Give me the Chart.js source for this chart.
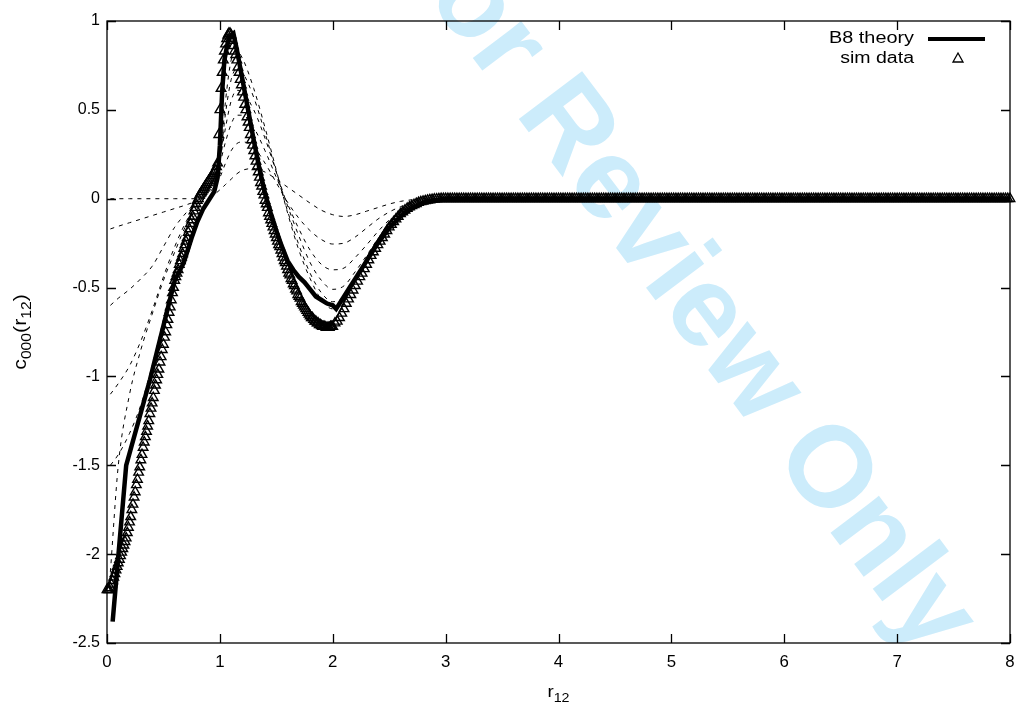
<!DOCTYPE html>
<html>
<head>
<meta charset="utf-8">
<script src="https://cdn.jsdelivr.net/npm/chart.js@4.4.0/dist/chart.umd.min.js"></script>
<style>
  html, body { margin: 0; padding: 0; background: #fff; }
  #wrap { width: 1024px; height: 719px; }
</style>
</head>
<body>
<div id="wrap"><canvas id="c" width="1024" height="719"></canvas></div>
<script>
// ---- axis ticks ----
const xTicks = [0, 1, 2, 3, 4, 5, 6, 7, 8];
const yTicks = [-2.5, -2, -1.5, -1, -0.5, 0, 0.5, 1];

// ---- B8 theory (thick solid) ----
const theoryR = [0.05, 0.17, 0.38, 0.60, 0.68, 0.75, 0.80, 0.85, 0.90, 0.95, 0.98, 1.00, 1.02, 1.04, 1.07, 1.10, 1.12,
  1.15, 1.20, 1.25, 1.30, 1.35, 1.40, 1.45, 1.50, 1.55, 1.60, 1.65, 1.70, 1.75, 1.80, 1.85, 1.90, 1.95, 2.00, 2.03,
  2.10, 2.15, 2.20, 2.30, 2.40, 2.50, 2.60, 2.70, 2.80, 2.90, 3.00, 8.00];
const theoryC = [-2.38, -1.50, -1.02, -0.46, -0.36, -0.22, -0.13, -0.06, -0.01, 0.04, 0.12, 0.30, 0.60, 0.78, 0.88, 0.92, 0.93,
  0.84, 0.67, 0.50, 0.33, 0.17, 0.03, -0.08, -0.18, -0.27, -0.35, -0.40, -0.44, -0.47, -0.51, -0.55, -0.57, -0.59, -0.60, -0.62,
  -0.55, -0.50, -0.45, -0.35, -0.25, -0.165, -0.10, -0.055, -0.025, -0.008, 0, 0];

// ---- sim data (triangles) ----
const simR = [
  0.00, 0.01, 0.02, 0.03, 0.04, 0.05, 0.06, 0.07, 0.08, 0.09, 0.10, 0.11, 0.12, 0.13, 0.14, 0.15, 0.16, 0.17, 0.18, 0.19,
  0.20, 0.21, 0.22, 0.23, 0.24, 0.25, 0.26, 0.27, 0.28, 0.29, 0.30, 0.31, 0.32, 0.33, 0.34, 0.35, 0.36, 0.37, 0.38, 0.39,
  0.40, 0.41, 0.42, 0.43, 0.44, 0.45, 0.46, 0.47, 0.48, 0.49, 0.50, 0.51, 0.52, 0.53, 0.54, 0.55, 0.56, 0.57, 0.58, 0.59,
  0.60, 0.61, 0.62, 0.63, 0.64, 0.65, 0.66, 0.67, 0.68, 0.69, 0.70, 0.71, 0.72, 0.73, 0.74, 0.75, 0.76, 0.77, 0.78, 0.79,
  0.80, 0.81, 0.82, 0.83, 0.84, 0.85, 0.86, 0.87, 0.88, 0.89, 0.90, 0.91, 0.92, 0.93, 0.94, 0.95, 0.96, 0.97, 0.98, 0.99,
  1.00, 1.01, 1.02, 1.03, 1.04, 1.05, 1.06, 1.07, 1.08, 1.09, 1.10, 1.11, 1.12, 1.13, 1.14, 1.15, 1.16, 1.17, 1.18, 1.19,
  1.20, 1.21, 1.22, 1.23, 1.24, 1.25, 1.26, 1.27, 1.28, 1.29, 1.30, 1.31, 1.32, 1.33, 1.34, 1.35, 1.36, 1.37, 1.38, 1.39,
  1.40, 1.41, 1.42, 1.43, 1.44, 1.45, 1.46, 1.47, 1.48, 1.49, 1.50, 1.51, 1.52, 1.53, 1.54, 1.55, 1.56, 1.57, 1.58, 1.59,
  1.60, 1.61, 1.62, 1.63, 1.64, 1.65, 1.66, 1.67, 1.68, 1.69, 1.70, 1.71, 1.72, 1.73, 1.74, 1.75, 1.76, 1.77, 1.78, 1.79,
  1.80, 1.81, 1.82, 1.83, 1.84, 1.85, 1.86, 1.87, 1.88, 1.89, 1.90, 1.91, 1.92, 1.93, 1.94, 1.95, 1.96, 1.97, 1.98, 1.99,
  2.00, 2.02, 2.04, 2.06, 2.08, 2.10, 2.12, 2.14, 2.16, 2.18, 2.20, 2.22, 2.24, 2.26, 2.28, 2.30, 2.32, 2.34, 2.36, 2.38,
  2.40, 2.42, 2.44, 2.46, 2.48, 2.50, 2.52, 2.54, 2.56, 2.58, 2.60, 2.62, 2.64, 2.66, 2.68, 2.70, 2.72, 2.74, 2.76, 2.78,
  2.80, 2.82, 2.84, 2.86, 2.88, 2.90, 2.92, 2.94, 2.96, 2.98, 3.00,
  3.02, 3.04, 3.06, 3.08, 3.10, 3.12, 3.14, 3.16, 3.18, 3.20, 3.22, 3.24, 3.26, 3.28, 3.30, 3.32, 3.34, 3.36, 3.38, 3.40, 3.42, 3.44, 3.46, 3.48, 3.50,
  3.52, 3.54, 3.56, 3.58, 3.60, 3.62, 3.64, 3.66, 3.68, 3.70, 3.72, 3.74, 3.76, 3.78, 3.80, 3.82, 3.84, 3.86, 3.88, 3.90, 3.92, 3.94, 3.96, 3.98, 4.00,
  4.02, 4.04, 4.06, 4.08, 4.10, 4.12, 4.14, 4.16, 4.18, 4.20, 4.22, 4.24, 4.26, 4.28, 4.30, 4.32, 4.34, 4.36, 4.38, 4.40, 4.42, 4.44, 4.46, 4.48, 4.50,
  4.52, 4.54, 4.56, 4.58, 4.60, 4.62, 4.64, 4.66, 4.68, 4.70, 4.72, 4.74, 4.76, 4.78, 4.80, 4.82, 4.84, 4.86, 4.88, 4.90, 4.92, 4.94, 4.96, 4.98, 5.00,
  5.02, 5.04, 5.06, 5.08, 5.10, 5.12, 5.14, 5.16, 5.18, 5.20, 5.22, 5.24, 5.26, 5.28, 5.30, 5.32, 5.34, 5.36, 5.38, 5.40, 5.42, 5.44, 5.46, 5.48, 5.50,
  5.52, 5.54, 5.56, 5.58, 5.60, 5.62, 5.64, 5.66, 5.68, 5.70, 5.72, 5.74, 5.76, 5.78, 5.80, 5.82, 5.84, 5.86, 5.88, 5.90, 5.92, 5.94, 5.96, 5.98, 6.00,
  6.02, 6.04, 6.06, 6.08, 6.10, 6.12, 6.14, 6.16, 6.18, 6.20, 6.22, 6.24, 6.26, 6.28, 6.30, 6.32, 6.34, 6.36, 6.38, 6.40, 6.42, 6.44, 6.46, 6.48, 6.50,
  6.52, 6.54, 6.56, 6.58, 6.60, 6.62, 6.64, 6.66, 6.68, 6.70, 6.72, 6.74, 6.76, 6.78, 6.80, 6.82, 6.84, 6.86, 6.88, 6.90, 6.92, 6.94, 6.96, 6.98, 7.00,
  7.02, 7.04, 7.06, 7.08, 7.10, 7.12, 7.14, 7.16, 7.18, 7.20, 7.22, 7.24, 7.26, 7.28, 7.30, 7.32, 7.34, 7.36, 7.38, 7.40, 7.42, 7.44, 7.46, 7.48, 7.50,
  7.52, 7.54, 7.56, 7.58, 7.60, 7.62, 7.64, 7.66, 7.68, 7.70, 7.72, 7.74, 7.76, 7.78, 7.80, 7.82, 7.84, 7.86, 7.88, 7.90, 7.92, 7.94, 7.96, 7.98, 8.00
];
const simC = [
  -2.20, -2.20, -2.20, -2.19, -2.17, -2.15, -2.13, -2.11, -2.09, -2.07, -2.05, -2.03, -2.01, -1.99, -1.97, -1.95, -1.93, -1.91, -1.88, -1.85,
  -1.82, -1.79, -1.75, -1.72, -1.68, -1.65, -1.61, -1.58, -1.54, -1.51, -1.47, -1.44, -1.40, -1.37, -1.34, -1.31, -1.28, -1.25, -1.21, -1.18,
  -1.15, -1.12, -1.08, -1.05, -1.02, -0.99, -0.96, -0.92, -0.89, -0.85, -0.82, -0.78, -0.75, -0.71, -0.68, -0.64, -0.61, -0.57, -0.53, -0.50,
  -0.46, -0.44, -0.42, -0.40, -0.37, -0.35, -0.33, -0.31, -0.28, -0.26, -0.24, -0.22, -0.19, -0.17, -0.14, -0.12, -0.10, -0.07, -0.05, -0.03,
  -0.01, 0.00, 0.02, 0.03, 0.04, 0.05, 0.06, 0.07, 0.08, 0.09, 0.10, 0.11, 0.12, 0.13, 0.14, 0.15, 0.16, 0.18, 0.20, 0.36,
  0.50, 0.62, 0.71, 0.78, 0.83, 0.87, 0.90, 0.92, 0.93, 0.93, 0.92, 0.89, 0.86, 0.83, 0.81, 0.78, 0.74, 0.71, 0.67, 0.64,
  0.60, 0.57, 0.53, 0.50, 0.46, 0.43, 0.40, 0.36, 0.33, 0.30, 0.27, 0.24, 0.21, 0.18, 0.15, 0.12, 0.09, 0.07, 0.04, 0.02,
  -0.01, -0.03, -0.05, -0.08, -0.10, -0.12, -0.14, -0.16, -0.18, -0.20, -0.22, -0.24, -0.26, -0.27, -0.29, -0.31, -0.33, -0.35, -0.36, -0.38,
  -0.40, -0.42, -0.43, -0.45, -0.46, -0.48, -0.49, -0.51, -0.52, -0.54, -0.55, -0.56, -0.58, -0.59, -0.60, -0.61, -0.62, -0.63, -0.64, -0.65,
  -0.66, -0.67, -0.67, -0.68, -0.69, -0.69, -0.70, -0.70, -0.71, -0.71, -0.715, -0.72, -0.72, -0.72, -0.725, -0.725, -0.725, -0.725, -0.72, -0.72,
  -0.72, -0.70, -0.69, -0.67, -0.645, -0.62, -0.59, -0.565, -0.54, -0.515, -0.49, -0.465, -0.44, -0.42, -0.395, -0.37, -0.345, -0.32, -0.30, -0.28,
  -0.26, -0.24, -0.22, -0.20, -0.18, -0.16, -0.145, -0.13, -0.115, -0.10, -0.085, -0.075, -0.065, -0.055, -0.047, -0.04, -0.034, -0.028, -0.022, -0.018,
  -0.015, -0.012, -0.009, -0.007, -0.005, -0.003, -0.002, -0.001, 0, 0, 0,
  0, 0, 0, 0, 0, 0, 0, 0, 0, 0, 0, 0, 0, 0, 0, 0, 0, 0, 0, 0, 0, 0, 0, 0, 0,
  0, 0, 0, 0, 0, 0, 0, 0, 0, 0, 0, 0, 0, 0, 0, 0, 0, 0, 0, 0, 0, 0, 0, 0, 0,
  0, 0, 0, 0, 0, 0, 0, 0, 0, 0, 0, 0, 0, 0, 0, 0, 0, 0, 0, 0, 0, 0, 0, 0, 0,
  0, 0, 0, 0, 0, 0, 0, 0, 0, 0, 0, 0, 0, 0, 0, 0, 0, 0, 0, 0, 0, 0, 0, 0, 0,
  0, 0, 0, 0, 0, 0, 0, 0, 0, 0, 0, 0, 0, 0, 0, 0, 0, 0, 0, 0, 0, 0, 0, 0, 0,
  0, 0, 0, 0, 0, 0, 0, 0, 0, 0, 0, 0, 0, 0, 0, 0, 0, 0, 0, 0, 0, 0, 0, 0, 0,
  0, 0, 0, 0, 0, 0, 0, 0, 0, 0, 0, 0, 0, 0, 0, 0, 0, 0, 0, 0, 0, 0, 0, 0, 0,
  0, 0, 0, 0, 0, 0, 0, 0, 0, 0, 0, 0, 0, 0, 0, 0, 0, 0, 0, 0, 0, 0, 0, 0, 0,
  0, 0, 0, 0, 0, 0, 0, 0, 0, 0, 0, 0, 0, 0, 0, 0, 0, 0, 0, 0, 0, 0, 0, 0, 0,
  0, 0, 0, 0, 0, 0, 0, 0, 0, 0, 0, 0, 0, 0, 0, 0, 0, 0, 0, 0, 0, 0, 0, 0, 0
];

// ---- lower order curves (thin dashed) ----
const dashR = [0.03, 0.1, 0.2, 0.3, 0.4, 0.5, 0.6, 0.7, 0.8, 0.9, 1.0, 1.05, 1.1, 1.15, 1.2, 1.3, 1.4, 1.5, 1.6, 1.7,
  1.8, 1.9, 2.0, 2.1, 2.2, 2.3, 2.4, 2.5, 2.6, 2.7, 2.8, 2.9, 3.0, 8.0];
const dash1 = [0, 0, 0, 0, 0, 0, 0, 0, 0, 0.005, 0.05, 0.08, 0.11, 0.14, 0.16, 0.17, 0.15, 0.11, 0.065, 0.02,
  -0.025, -0.065, -0.09, -0.1, -0.09, -0.07, -0.05, -0.03, -0.015, -0.006, 0, 0, 0, 0];
const dash2 = [-0.17, -0.155, -0.135, -0.115, -0.095, -0.075, -0.055, -0.035, -0.01, 0.03, 0.12, 0.2, 0.27, 0.31, 0.32, 0.29, 0.2, 0.09, -0.02, -0.11,
  -0.18, -0.23, -0.255, -0.25, -0.215, -0.165, -0.115, -0.075, -0.045, -0.022, -0.008, -0.002, 0, 0];
const dash3 = [-0.6, -0.56, -0.51, -0.45, -0.38, -0.27, -0.16, -0.08, -0.01, 0.06, 0.2, 0.32, 0.42, 0.47, 0.47, 0.4, 0.27, 0.12, -0.03, -0.17,
  -0.29, -0.37, -0.4, -0.39, -0.33, -0.26, -0.185, -0.12, -0.072, -0.038, -0.016, -0.005, 0, 0];
const dash4 = [-1.1, -1.04, -0.94, -0.8, -0.63, -0.44, -0.27, -0.13, -0.03, 0.06, 0.22, 0.4, 0.55, 0.61, 0.6, 0.5, 0.34, 0.15, -0.04, -0.21,
  -0.36, -0.46, -0.51, -0.49, -0.41, -0.32, -0.225, -0.15, -0.09, -0.047, -0.02, -0.006, 0, 0];
const dash5 = [-1.5, -1.44, -1.32, -1.16, -0.94, -0.68, -0.43, -0.21, -0.06, 0.05, 0.22, 0.48, 0.67, 0.73, 0.71, 0.57, 0.37, 0.15, -0.07, -0.26,
  -0.42, -0.53, -0.58, -0.55, -0.46, -0.355, -0.25, -0.165, -0.1, -0.052, -0.022, -0.007, 0, 0];
const dash6 = [-2.1, -1.5, -1.1, -0.85, -0.65, -0.46, -0.3, -0.15, -0.05, 0.04, 0.2, 0.55, 0.78, 0.83, 0.79, 0.62, 0.4, 0.16, -0.08, -0.29,
  -0.45, -0.57, -0.62, -0.57, -0.47, -0.36, -0.255, -0.17, -0.1, -0.053, -0.023, -0.007, 0, 0];

const FONT = '"Liberation Sans", Arial, Helvetica, sans-serif';

function pairs(xs, ys) {
    return xs.map((x, i) => ({ x: x, y: ys[i] }));
}

function dashed(values) {
    return {
        data: pairs(dashR, values),
        borderColor: '#000',
        borderWidth: 1,
        borderDash: [4, 5],
        pointRadius: 0,
        cubicInterpolationMode: 'monotone',
        order: 2
    };
}

function wideText(ctx, txt, x, y, align, size, sx) {
    ctx.save();
    ctx.translate(x, y);
    ctx.scale(sx, 1);
    ctx.font = size + 'px ' + FONT;
    ctx.textAlign = align;
    ctx.fillText(txt, 0, 0);
    ctx.restore();
}

// text runs with subscripts, e.g. [['c',0],['000',1]]
function runsWidth(ctx, runs, size, sub, sx) {
    let w = 0;
    runs.forEach(([t, s]) => {
        ctx.font = (s ? sub : size) + 'px ' + FONT;
        w += ctx.measureText(t).width * sx;
    });
    return w;
}
function drawRuns(ctx, runs, x, y, size, sub, sx) {
    let cx = x;
    ctx.textAlign = 'left';
    ctx.textBaseline = 'alphabetic';
    runs.forEach(([t, s]) => {
        ctx.save();
        ctx.translate(cx, y + (s ? 5 : 0));
        ctx.scale(sx, 1);
        ctx.font = (s ? sub : size) + 'px ' + FONT;
        ctx.fillText(t, 0, 0);
        ctx.restore();
        ctx.font = (s ? sub : size) + 'px ' + FONT;
        cx += ctx.measureText(t).width * sx;
    });
}

const watermark = {
    id: 'watermark',
    beforeDatasetsDraw(chart) {
        const ctx = chart.ctx;
        ctx.save();
        ctx.translate(680, 280);
        ctx.rotate(53 * Math.PI / 180);
        ctx.fillStyle = 'rgb(204, 236, 251)';
        ctx.font = 'bold 115px ' + FONT;
        ctx.textAlign = 'center';
        ctx.textBaseline = 'middle';
        ctx.fillText('For Review Only', 0, 0);
        ctx.restore();
    }
};

const gnuFrame = {
    id: 'gnuFrame',
    afterDatasetsDraw(chart) {
        const ctx = chart.ctx;
        const a = chart.chartArea;
        const xs = chart.scales.x, ys = chart.scales.y;
        const tl = 9;
        ctx.save();
        ctx.strokeStyle = '#000';
        ctx.lineWidth = 1.3;
        ctx.strokeRect(a.left, a.top, a.right - a.left, a.bottom - a.top);
        ctx.beginPath();
        xTicks.forEach(v => {
            const px = Math.round(xs.getPixelForValue(v)) + 0.5;
            ctx.moveTo(px, a.bottom); ctx.lineTo(px, a.bottom - tl);
            ctx.moveTo(px, a.top); ctx.lineTo(px, a.top + tl);
        });
        yTicks.forEach(v => {
            const py = Math.round(ys.getPixelForValue(v)) + 0.5;
            ctx.moveTo(a.left, py); ctx.lineTo(a.left + tl, py);
            ctx.moveTo(a.right, py); ctx.lineTo(a.right - tl, py);
        });
        ctx.stroke();

        // tick labels
        ctx.fillStyle = '#000';
        ctx.textBaseline = 'middle';
        xTicks.forEach(v => wideText(ctx, String(v), xs.getPixelForValue(v), a.bottom + 20, 'center', 16, 1.05));
        yTicks.forEach(v => wideText(ctx, String(v), a.left - 7, ys.getPixelForValue(v), 'right', 16, 1.0));

        // x title r12
        const xr = [['r', 0], ['12', 1]];
        const xw = runsWidth(ctx, xr, 17, 13, 1.1);
        drawRuns(ctx, xr, (a.left + a.right) / 2 - xw / 2, 697, 17, 13, 1.1);

        // y title c000(r12)
        const yr = [['c', 0], ['000', 1], ['(r', 0], ['12', 1], [')', 0]];
        const yw = runsWidth(ctx, yr, 19, 14, 1.12);
        ctx.save();
        ctx.translate(26, (a.top + a.bottom) / 2);
        ctx.rotate(-Math.PI / 2);
        drawRuns(ctx, yr, -yw / 2, 0, 19, 14, 1.12);
        ctx.restore();

        // legend
        ctx.textBaseline = 'middle';
        wideText(ctx, 'B8 theory', 914, 39, 'right', 16, 1.24);
        wideText(ctx, 'sim data', 914, 59, 'right', 16, 1.22);
        ctx.lineWidth = 4;
        ctx.beginPath();
        ctx.moveTo(928, 39); ctx.lineTo(985, 39);
        ctx.stroke();
        ctx.lineWidth = 1.3;
        ctx.beginPath();
        ctx.moveTo(958, 53); ctx.lineTo(963, 62); ctx.lineTo(953, 62); ctx.closePath();
        ctx.stroke();
        ctx.restore();
    }
};

new Chart(document.getElementById('c'), {
    type: 'line',
    data: {
        datasets: [
            {
                label: 'B8 theory',
                data: pairs(theoryR, theoryC),
                borderColor: '#000',
                borderWidth: 4.5,
                pointRadius: 0,
                tension: 0,
                order: 0
            },
            {
                label: 'sim data',
                data: pairs(simR, simC),
                showLine: false,
                pointStyle: 'triangle',
                pointRadius: 5.5,
                pointBorderWidth: 1.4,
                pointBorderColor: '#000',
                pointBackgroundColor: 'rgba(0,0,0,0)',
                clip: 10,
                order: 1
            },
            dashed(dash1), dashed(dash2), dashed(dash3),
            dashed(dash4), dashed(dash5), dashed(dash6)
        ]
    },
    options: {
        responsive: false,
        animation: false,
        devicePixelRatio: 1,
        layout: { padding: { left: 0, right: 14, top: 21, bottom: 0 } },
        plugins: {
            legend: { display: false },
            tooltip: { enabled: false }
        },
        scales: {
            x: {
                type: 'linear', min: 0, max: 8,
                ticks: { display: false, stepSize: 1 },
                grid: { display: false }, border: { display: false },
                afterFit(s) { s.height = 76; }
            },
            y: {
                type: 'linear', min: -2.5, max: 1,
                ticks: { display: false, stepSize: 0.5 },
                grid: { display: false }, border: { display: false },
                afterFit(s) { s.width = 107; }
            }
        }
    },
    plugins: [watermark, gnuFrame]
});
</script>
</body>
</html>
